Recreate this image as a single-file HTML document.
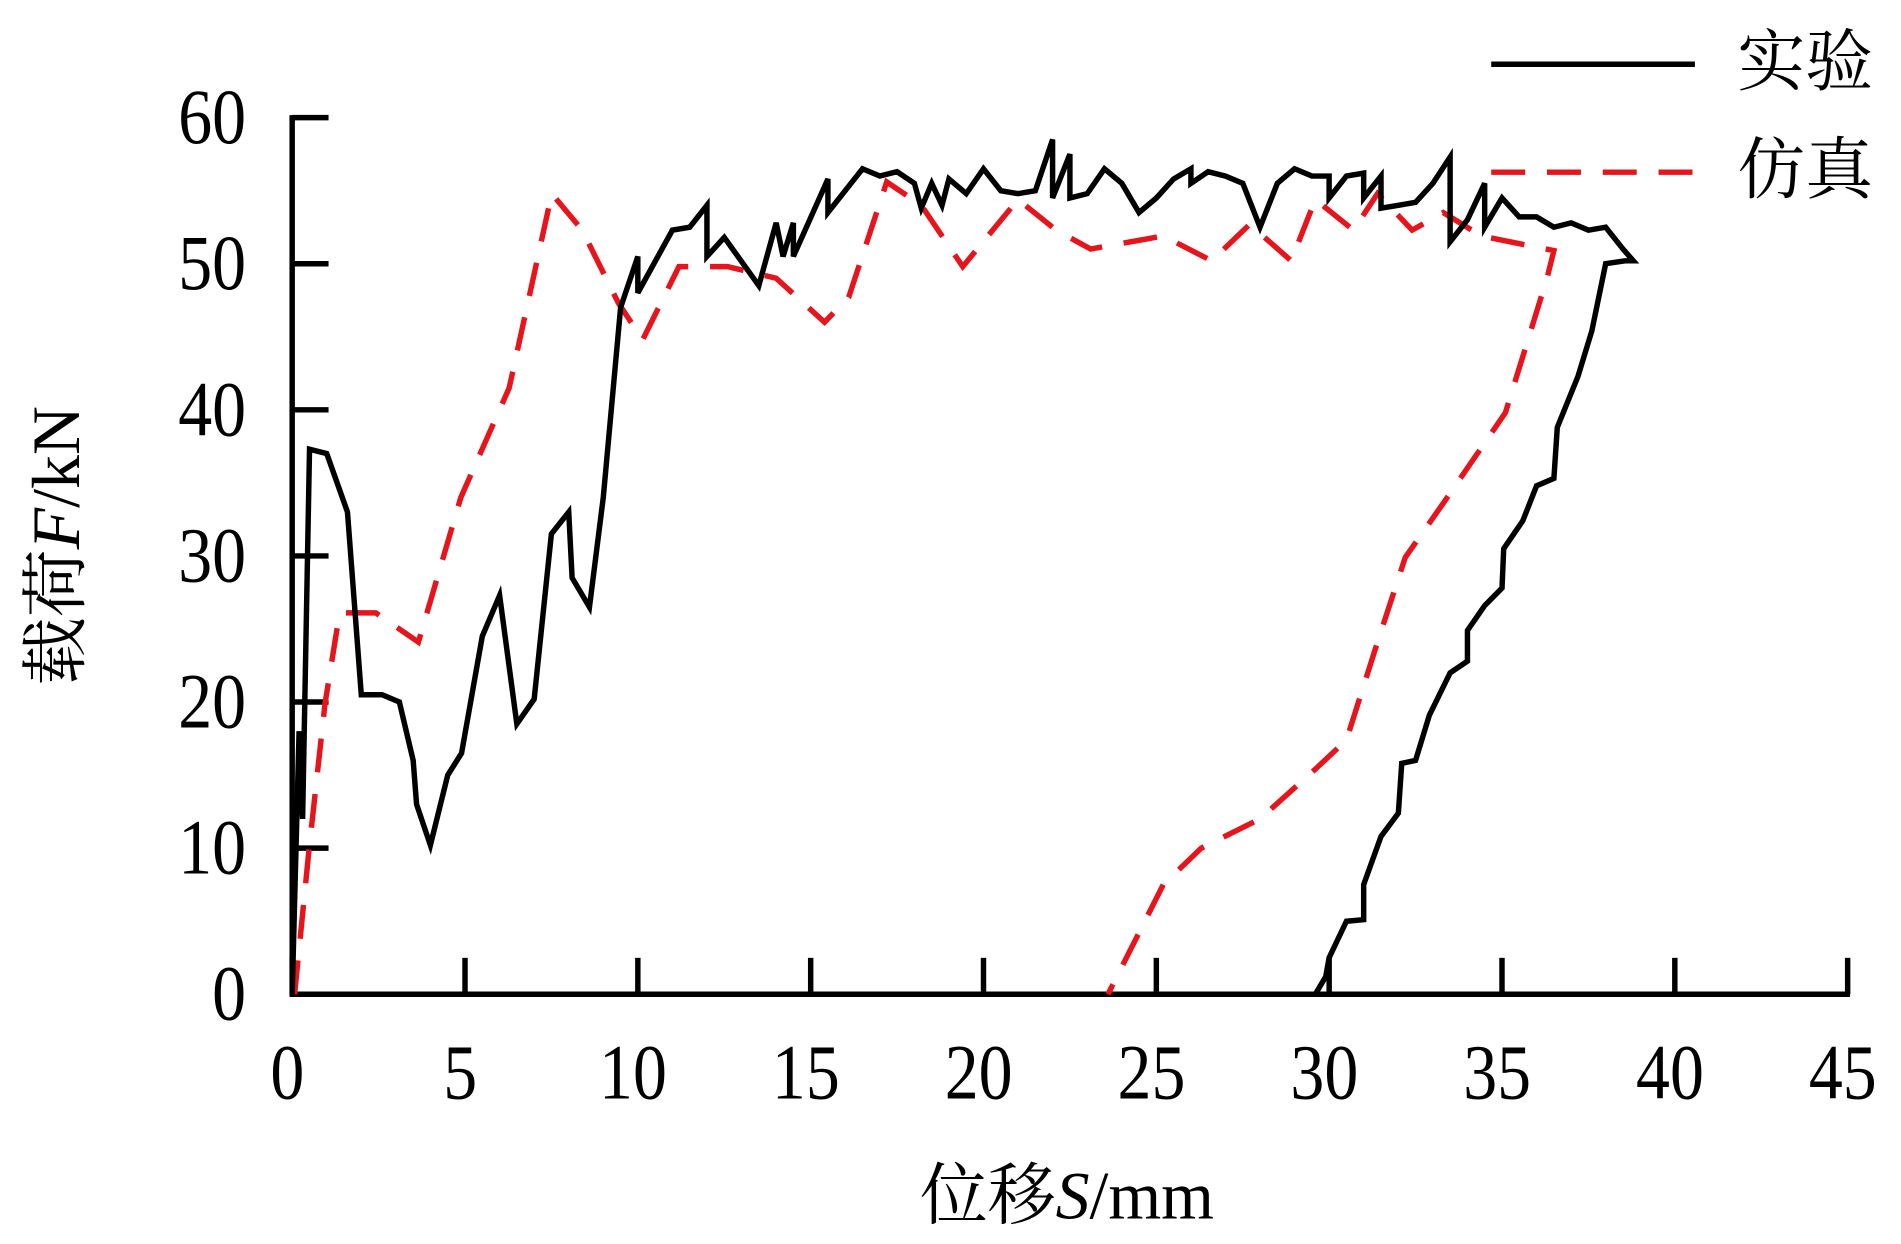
<!DOCTYPE html>
<html><head><meta charset="utf-8"><style>
html,body{margin:0;padding:0;background:#fff;width:1901px;height:1244px;overflow:hidden}
svg{display:block}
text{font-family:"Liberation Serif","Noto Serif CJK SC",serif;fill:#000}
</style></head><body>
<svg id="chart" width="1901" height="1244" viewBox="0 0 1568 1026" preserveAspectRatio="none" xmlns="http://www.w3.org/2000/svg">
<g id="axes"></g>
<g id="series"></g>
<g>
<line x1="1230" y1="53" x2="1398" y2="53" stroke="#000" stroke-width="4.5"/>
<text x="1433" y="70" font-size="56">实验</text>
<line x1="1230" y1="142" x2="1398" y2="142" stroke="#e8141c" stroke-width="4.5" stroke-dasharray="28,18"/>
<text x="1433" y="159" font-size="56">仿真</text>
</g>
<text x="880" y="1005" font-size="56" text-anchor="middle">位移<tspan font-style="italic">S</tspan>/mm</text>
<text transform="translate(65,450) rotate(-90)" font-size="56" text-anchor="middle">载荷<tspan font-style="italic">F</tspan>/kN</text>
</svg>
<script>
const xTicks=[0,5,10,15,20,25,30,35,40,45];
const yTicks=[0,10,20,30,40,50,60];
const expX=[0,0.2,0.3,0.5,1.0,1.6,2.0,2.6,3.1,3.5,3.6,4.0,4.5,4.9,5.5,6.0,6.5,7.0,7.5,8.0,8.1,8.6,9.0,9.5,10.0,10.0,11,11.5,12,12.0,12.5,13.5,14,14.2,14.5,14.5,15.5,15.5,16.5,17,17.5,18,18.2,18.5,18.8,19,19.5,20,20.5,21,21.5,22,22,22.5,22.5,23,23.5,24,24.5,25,25.5,26,26,26.5,27,27.5,28,28.5,29,29.5,30,30,30.5,31,31,31.5,31.5,32,32.5,33,33.5,33.5,34,34.5,34.5,35,35.5,36,36.5,37,37.5,38,38.5,38.8,38.56,38.0,37.6,37.2,36.6,36.5,36.0,35.6,35.05,35.0,34.5,34.0,34.0,33.5,32.9,32.5,32.1,32.0,31.5,31.0,31.0,30.5,30.0,29.9,29.6];
const expY=[0,18,12,37.3,37,33,20.5,20.5,20,16,13,10.2,15,16.5,24.5,27.3,18.5,20.2,31.5,33,28.5,26.5,34,47,50.5,48,52.3,52.5,54,50.5,51.8,48.5,52.8,50.5,52.8,50.5,55.8,53.5,56.5,56,56.3,55.5,53.8,55.5,54,55.8,54.8,56.5,55,54.8,55,58.5,54.5,57.5,54.5,54.8,56.5,55.5,53.5,54.5,55.8,56.5,55.5,56.3,56,55.5,52.5,55.5,56.5,56,56,54.5,56,56.2,54.5,56,53.8,54,54.2,55.5,57.3,51.5,53,55.5,52.5,54.5,53.2,53.2,52.5,52.8,52.3,52.5,51,50.2,50.2,50.0,45.4,42.3,38.8,35.3,34.8,32.4,30.5,27.8,26.6,24.9,22.8,22,19.1,16,15.8,12.4,10.8,7.5,5.1,5,2.5,1.2,0];
const simX=[0.07,0.49,0.95,1.37,2.42,3.65,4.88,6.28,7.51,8.39,9.44,10.14,11.19,12.6,14.0,15.4,16.1,17.2,18.2,19.4,21.0,22.1,23.1,25.2,26.6,27.7,28.9,29.6,30.7,31.4,32.4,33.3,34.4,36.5,36.3,35.1,33.3,32.2,31.4,30.5,29.6,28.0,26.3,25.2,23.6];
const simY=[0,10,19.9,26.1,26.1,24.1,34,41.5,54.8,52.3,47.3,44.8,49.8,49.8,49,46,47.7,55.6,54,49.8,54.4,52.3,51,51.9,50.2,52.7,50.2,54.4,52.3,54.8,52.3,53.5,51.9,50.9,49,39.8,33.6,29.9,24.1,17.4,15.4,12,10,7.5,0];
const X0=241,XS=(1524-241)/45,Y0=820,YS=(820-97)/60;
function sx(v){return X0+v*XS;}
function sy(v){return Y0-v*YS;}
const NS='http://www.w3.org/2000/svg';
const axes=document.getElementById('axes'),series=document.getElementById('series');
function mk(tag,attrs,parent){const e=document.createElementNS(NS,tag);for(const k in attrs)e.setAttribute(k,attrs[k]);parent.appendChild(e);return e;}
let e=mk('line',{x1:sx(0),y1:sy(0)+2,x2:sx(0),y2:sy(60)-2,stroke:'#000','stroke-width':4.5},axes);


e=mk('line',{x1:sx(0)-2,y1:sy(0),x2:sx(45)+2,y2:sy(0),stroke:'#000','stroke-width':4.5},axes);


xTicks.forEach(t=>{
 let l=mk('line',{x1:sx(t),y1:sy(0),x2:sx(t),y2:sy(0)-30,stroke:'#000','stroke-width':4.5},axes);
 
 
 let tx=mk('text',{x:0,y:0,'font-size':56,'text-anchor':'middle',transform:'translate('+(sx(t)-4)+',906) scale(1,1.15)'},axes);tx.textContent=t;
 
 
});
yTicks.forEach(t=>{
 let l=mk('line',{x1:sx(0),y1:sy(t),x2:sx(0)+30,y2:sy(t),stroke:'#000','stroke-width':4.5},axes);
 
 
 let tx=mk('text',{x:0,y:0,'font-size':56,'text-anchor':'end',transform:'translate(203,'+(sy(t)+21)+') scale(1,1.15)'},axes);tx.textContent=t;
 
 
});
function pts(xs,ys){return xs.map((x,i)=>sx(x).toFixed(1)+','+sy(ys[i]).toFixed(1)).join(' ');}
let p=mk('polyline',{points:pts(simX,simY),fill:'none',stroke:'#e8141c','stroke-width':4.5,'stroke-dasharray':'28,18'},series);


p=mk('polyline',{points:pts(expX,expY),fill:'none',stroke:'#000','stroke-width':4.5,'stroke-linejoin':'miter'},series);


</script>
</body></html>
